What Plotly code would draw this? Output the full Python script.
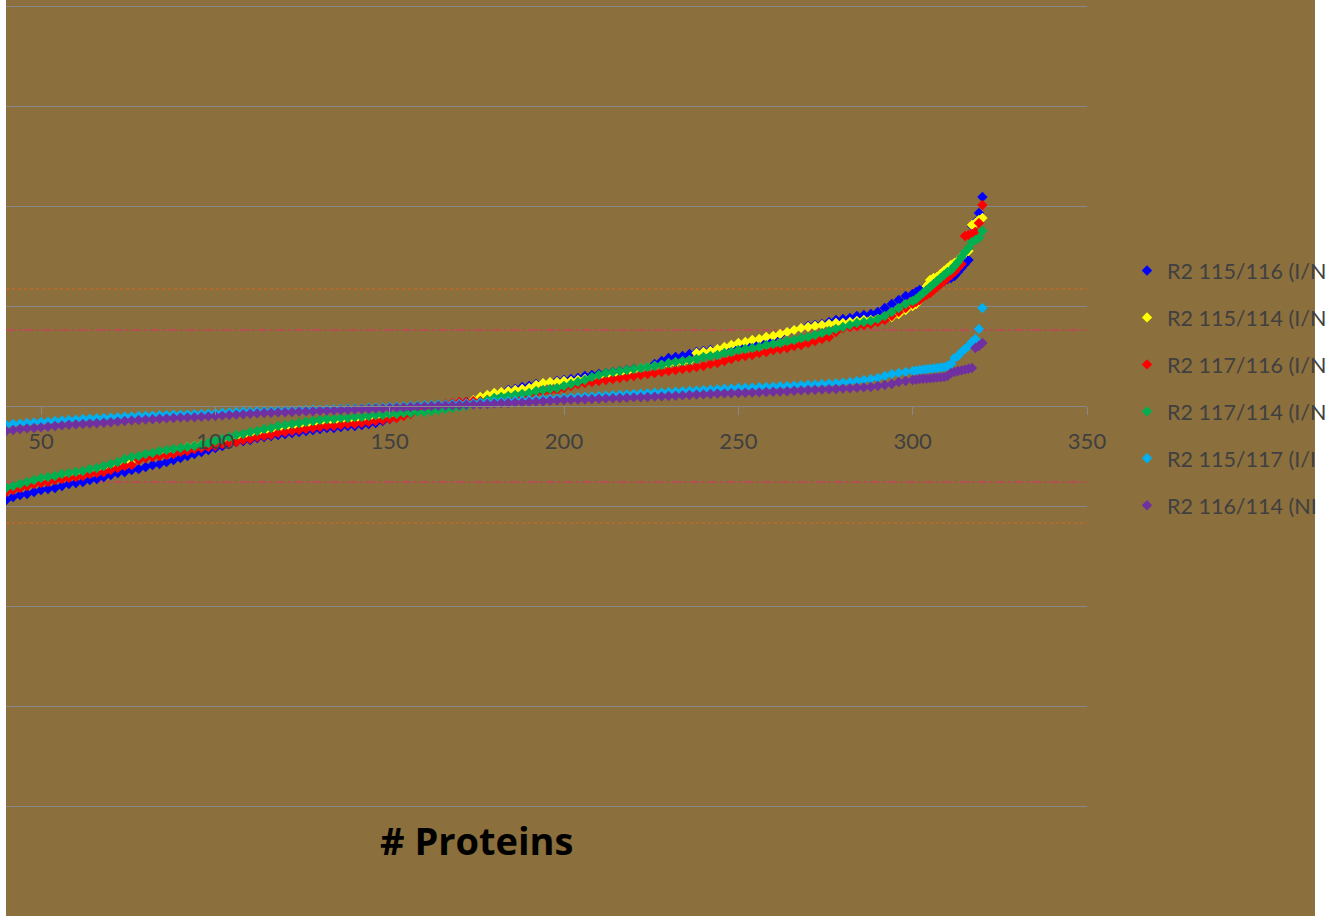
import plotly.graph_objects as go

# Protein rank (x) — every second rank up to 300, then each rank to 320
rank = list(range(36, 301, 2)) + list(range(301, 321))

# legend labels as far as they are visible in the (cropped) reference
series_names = ["R2 115/116 (I/N", "R2 115/114 (I/N", "R2 117/116 (I/N",
                "R2 117/114 (I/N", "R2 115/117 (I/I", "R2 116/114 (NI"]
series_colors = ["#0000FF", "#FFFF00", "#FF0000", "#00B050", "#00B0F0", "#7030A0"]

r115_116 = [
    -0.50, -0.485, -0.47, -0.455, -0.445, -0.44, -0.43, -0.42, -0.415, -0.41,
    -0.40, -0.39, -0.385, -0.38, -0.37, -0.365, -0.355, -0.345, -0.335, -0.33,
    -0.32, -0.315, -0.305, -0.295, -0.29, -0.28, -0.27, -0.26, -0.25, -0.24,
    -0.23, -0.22, -0.21, -0.20, -0.19, -0.18, -0.175, -0.17, -0.16, -0.155,
    -0.15, -0.145, -0.14, -0.135, -0.13, -0.125, -0.12, -0.115, -0.11, -0.11,
    -0.105, -0.10, -0.10, -0.095, -0.09, -0.085, -0.075, -0.065, -0.04, -0.035,
    -0.03, -0.025, -0.02, -0.015, -0.01, -0.005, 0.0, 0.01, 0.02, 0.03,
    0.04, 0.05, 0.06, 0.07, 0.08, 0.085, 0.095, 0.10, 0.11, 0.115,
    0.12, 0.125, 0.13, 0.135, 0.14, 0.15, 0.155, 0.16, 0.165, 0.17,
    0.175, 0.18, 0.185, 0.19, 0.195, 0.21, 0.225, 0.24, 0.245, 0.25,
    0.26, 0.27, 0.275, 0.28, 0.285, 0.29, 0.295, 0.30, 0.305, 0.31,
    0.32, 0.33, 0.34, 0.355, 0.37, 0.38, 0.39, 0.40, 0.405, 0.41,
    0.42, 0.43, 0.435, 0.44, 0.45, 0.455, 0.46, 0.47, 0.49, 0.51,
    0.53, 0.55, 0.56,
    0.57, 0.58, 0.585, 0.59, 0.60, 0.605, 0.61, 0.615, 0.625, 0.635,
    0.64, 0.65, 0.67, 0.69, 0.71, 0.73, 0.90, 0.92, 0.965, 1.045,
]

r115_114 = [
    -0.44, -0.43, -0.42, -0.41, -0.40, -0.39, -0.38, -0.375, -0.37, -0.36,
    -0.355, -0.345, -0.34, -0.335, -0.325, -0.32, -0.315, -0.305, -0.295, -0.285,
    -0.275, -0.265, -0.255, -0.245, -0.24, -0.23, -0.225, -0.215, -0.205, -0.20,
    -0.195, -0.19, -0.185, -0.18, -0.17, -0.16, -0.155, -0.145, -0.14, -0.13,
    -0.125, -0.12, -0.115, -0.11, -0.105, -0.10, -0.095, -0.09, -0.085, -0.08,
    -0.075, -0.075, -0.07, -0.07, -0.065, -0.06, -0.055, -0.05, -0.045, -0.04,
    -0.035, -0.03, -0.025, -0.02, -0.015, -0.01, -0.005, 0.005, 0.015, 0.03,
    0.045, 0.055, 0.065, 0.07, 0.075, 0.08, 0.085, 0.09, 0.105, 0.115,
    0.12, 0.12, 0.125, 0.125, 0.13, 0.135, 0.14, 0.145, 0.15, 0.155,
    0.165, 0.17, 0.18, 0.19, 0.195, 0.20, 0.205, 0.21, 0.215, 0.22,
    0.225, 0.265, 0.27, 0.275, 0.285, 0.295, 0.305, 0.315, 0.32, 0.33,
    0.335, 0.345, 0.35, 0.36, 0.37, 0.38, 0.39, 0.395, 0.40, 0.405,
    0.41, 0.415, 0.415, 0.42, 0.425, 0.43, 0.43, 0.435, 0.44, 0.445,
    0.46, 0.48, 0.50,
    0.51, 0.53, 0.56, 0.60, 0.63, 0.64, 0.645, 0.66, 0.675, 0.69,
    0.705, 0.715, 0.725, 0.745, 0.765, 0.775, 0.905, 0.915, 0.93, 0.94,
]

r117_116 = [
    -0.45, -0.44, -0.43, -0.42, -0.41, -0.40, -0.39, -0.385, -0.38, -0.37,
    -0.365, -0.36, -0.355, -0.35, -0.34, -0.335, -0.33, -0.32, -0.31, -0.30,
    -0.295, -0.27, -0.26, -0.255, -0.25, -0.245, -0.24, -0.23, -0.225, -0.215,
    -0.21, -0.205, -0.20, -0.19, -0.185, -0.18, -0.17, -0.165, -0.155, -0.15,
    -0.145, -0.135, -0.13, -0.125, -0.12, -0.115, -0.11, -0.105, -0.10, -0.10,
    -0.095, -0.09, -0.09, -0.085, -0.08, -0.075, -0.07, -0.065, -0.06, -0.05,
    -0.04, -0.03, -0.02, -0.01, 0.0, 0.01, 0.015, 0.02, 0.02, 0.025,
    0.025, 0.03, 0.03, 0.035, 0.04, 0.045, 0.05, 0.055, 0.065, 0.07,
    0.075, 0.08, 0.09, 0.10, 0.11, 0.115, 0.12, 0.125, 0.13, 0.135,
    0.14, 0.145, 0.15, 0.155, 0.16, 0.165, 0.17, 0.175, 0.18, 0.185,
    0.19, 0.195, 0.20, 0.21, 0.215, 0.225, 0.235, 0.245, 0.25, 0.255,
    0.265, 0.27, 0.28, 0.285, 0.29, 0.30, 0.305, 0.315, 0.325, 0.335,
    0.345, 0.37, 0.39, 0.395, 0.40, 0.405, 0.41, 0.42, 0.43, 0.45,
    0.47, 0.49, 0.51,
    0.52, 0.53, 0.545, 0.555, 0.565, 0.58, 0.595, 0.61, 0.625, 0.64,
    0.655, 0.67, 0.69, 0.71, 0.85, 0.855, 0.86, 0.87, 0.915, 1.005,
]

r117_114 = [
    -0.43, -0.42, -0.41, -0.40, -0.39, -0.38, -0.37, -0.36, -0.355, -0.35,
    -0.34, -0.335, -0.33, -0.325, -0.315, -0.31, -0.30, -0.29, -0.28, -0.265,
    -0.255, -0.25, -0.24, -0.235, -0.225, -0.22, -0.215, -0.21, -0.205, -0.20,
    -0.195, -0.185, -0.175, -0.165, -0.155, -0.145, -0.14, -0.13, -0.125, -0.115,
    -0.11, -0.10, -0.095, -0.09, -0.085, -0.08, -0.075, -0.07, -0.065, -0.065,
    -0.06, -0.06, -0.055, -0.055, -0.05, -0.045, -0.045, -0.04, -0.04, -0.035,
    -0.035, -0.03, -0.03, -0.025, -0.02, -0.015, -0.01, -0.005, 0.0, 0.01,
    0.02, 0.03, 0.04, 0.045, 0.05, 0.055, 0.06, 0.065, 0.075, 0.08,
    0.085, 0.09, 0.10, 0.11, 0.12, 0.13, 0.145, 0.155, 0.165, 0.17,
    0.175, 0.18, 0.185, 0.19, 0.195, 0.20, 0.205, 0.215, 0.22, 0.225,
    0.23, 0.235, 0.245, 0.25, 0.255, 0.265, 0.27, 0.28, 0.285, 0.29,
    0.295, 0.305, 0.31, 0.315, 0.325, 0.33, 0.34, 0.345, 0.355, 0.365,
    0.375, 0.385, 0.395, 0.405, 0.415, 0.42, 0.425, 0.435, 0.45, 0.47,
    0.49, 0.51, 0.525,
    0.535, 0.55, 0.565, 0.58, 0.595, 0.61, 0.625, 0.64, 0.655, 0.67,
    0.68, 0.70, 0.72, 0.745, 0.77, 0.79, 0.82, 0.83, 0.84, 0.875,
]

r115_117 = [
    -0.105, -0.10, -0.095, -0.09, -0.088, -0.085, -0.082, -0.08, -0.078, -0.075,
    -0.072, -0.07, -0.068, -0.065, -0.063, -0.061, -0.06, -0.058, -0.056, -0.054,
    -0.052, -0.05, -0.049, -0.048, -0.046, -0.045, -0.044, -0.043, -0.042, -0.041,
    -0.04, -0.038, -0.036, -0.034, -0.032, -0.03, -0.029, -0.028, -0.027, -0.026,
    -0.025, -0.024, -0.023, -0.022, -0.021, -0.02, -0.019, -0.018, -0.017, -0.016,
    -0.015, -0.014, -0.013, -0.012, -0.01, -0.009, -0.007, -0.005, -0.004, -0.002,
    0.0, 0.002, 0.004, 0.005, 0.007, 0.008, 0.01, 0.011, 0.013, 0.014,
    0.016, 0.018, 0.02, 0.022, 0.024, 0.026, 0.028, 0.03, 0.032, 0.034,
    0.036, 0.038, 0.04, 0.042, 0.044, 0.046, 0.048, 0.05, 0.052, 0.054,
    0.056, 0.058, 0.06, 0.062, 0.064, 0.066, 0.068, 0.07, 0.072, 0.074,
    0.076, 0.078, 0.08, 0.082, 0.084, 0.086, 0.088, 0.09, 0.091, 0.092,
    0.094, 0.095, 0.097, 0.099, 0.10, 0.102, 0.104, 0.106, 0.108, 0.11,
    0.112, 0.114, 0.117, 0.12, 0.125, 0.13, 0.135, 0.14, 0.15, 0.16,
    0.165, 0.17, 0.175,
    0.177, 0.18, 0.182, 0.184, 0.186, 0.188, 0.19, 0.192, 0.195, 0.20,
    0.21, 0.24, 0.25, 0.27, 0.285, 0.30, 0.32, 0.335, 0.385, 0.49,
]

r116_114 = [
    -0.135, -0.13, -0.125, -0.12, -0.115, -0.112, -0.11, -0.107, -0.104, -0.10,
    -0.097, -0.094, -0.092, -0.09, -0.088, -0.086, -0.084, -0.081, -0.078, -0.075,
    -0.072, -0.07, -0.068, -0.066, -0.064, -0.062, -0.06, -0.058, -0.057, -0.056,
    -0.054, -0.052, -0.05, -0.048, -0.045, -0.043, -0.041, -0.039, -0.037, -0.035,
    -0.034, -0.032, -0.031, -0.03, -0.028, -0.027, -0.026, -0.024, -0.023, -0.022,
    -0.02, -0.019, -0.018, -0.016, -0.015, -0.013, -0.012, -0.01, -0.008, -0.007,
    -0.005, -0.003, -0.002, 0.0, 0.001, 0.002, 0.003, 0.004, 0.006, 0.007,
    0.009, 0.01, 0.012, 0.014, 0.015, 0.017, 0.018, 0.02, 0.022, 0.024,
    0.026, 0.028, 0.03, 0.031, 0.032, 0.034, 0.035, 0.036, 0.038, 0.039,
    0.04, 0.041, 0.043, 0.044, 0.045, 0.047, 0.048, 0.05, 0.051, 0.053,
    0.055, 0.057, 0.058, 0.06, 0.062, 0.063, 0.064, 0.065, 0.066, 0.067,
    0.068, 0.07, 0.071, 0.072, 0.074, 0.076, 0.078, 0.08, 0.081, 0.082,
    0.084, 0.085, 0.087, 0.089, 0.091, 0.093, 0.095, 0.10, 0.105, 0.11,
    0.12, 0.125, 0.13,
    0.132, 0.135, 0.136, 0.137, 0.138, 0.14, 0.142, 0.143, 0.145, 0.15,
    0.165, 0.17, 0.175, 0.178, 0.182, 0.186, 0.19, 0.29, 0.30, 0.315,
]

series_values = [r115_116, r115_114, r117_116, r117_114, r115_117, r116_114]

x_ticks = [50, 100, 150, 200, 250, 300, 350]
threshold_orange = [0.585, -0.585]   # log2(1.5)
threshold_red = [0.38, -0.38]        # log2(1.3)

BG = "#8B6F3D"
GRID = "#878787"

# plot area: pixel rows 4..808, columns 6..1087
PT, PB, PL, PR = 4, 808, 6, 1087
PW, PH = PR - PL, PB - PT

fig = go.Figure()
for i, (name, color, vals) in enumerate(zip(series_names, series_colors, series_values)):
    fig.add_trace(go.Scatter(
        x=rank[:len(vals)], y=vals, mode="markers", name=name,
        legendgroup=f"g{i}",
        marker=dict(symbol="diamond", size=8, color=color, line=dict(width=0)),
        hoverinfo="skip",
    ))

shapes = []
for v in threshold_orange:
    shapes.append(dict(type="line", xref="paper", yref="y", x0=0, x1=1, y0=v, y1=v,
                       line=dict(color="#C26A2A", width=1.3, dash="dot"), layer="below"))
for v in threshold_red:
    shapes.append(dict(type="line", xref="paper", yref="y", x0=0, x1=1, y0=v, y1=v,
                       line=dict(color="#E0306A", width=1, dash="dashdot"), layer="below"))
# white crop borders
shapes.append(dict(type="rect", xref="paper", yref="paper", x0=-PL/PW, x1=0, y0=-0.2, y1=1.1,
                   fillcolor="white", line=dict(width=0), layer="above"))
shapes.append(dict(type="rect", xref="paper", yref="paper", x0=(1315-PL)/PW, x1=1.3, y0=-0.2, y1=1.1,
                   fillcolor="white", line=dict(width=0), layer="above"))

fig.update_layout(
    width=1326, height=916,
    margin=dict(l=PL, r=1326-PR, t=PT, b=916-PB, autoexpand=False),
    paper_bgcolor=BG, plot_bgcolor=BG,
    font=dict(family="Lato, Open Sans, sans-serif", color="#404040"),
    showlegend=True,
    legend=dict(x=(1127-PL)/PW, xanchor="left", y=(PB-250)/PH, yanchor="top",
                font=dict(size=21.5, color="#404040"), tracegroupgap=16,
                bgcolor="rgba(0,0,0,0)", borderwidth=0),
    shapes=shapes,
    annotations=[dict(text="<b># Proteins</b>", xref="paper", yref="paper",
                      x=(476-PL)/PW, y=(PB-840)/PH, xanchor="center", yanchor="middle",
                      showarrow=False, font=dict(size=38, color="#000000",
                                                  family="Open Sans, Lato, sans-serif"))],
)

fig.update_xaxes(
    range=[39.96, 350], tickvals=x_ticks, ticktext=[str(t) for t in x_ticks],
    showgrid=False, zeroline=False, showline=True, linecolor=GRID, linewidth=1,
    anchor="free", position=0.5, ticks="outside", ticklen=8, tickcolor=GRID,
    tickfont=dict(size=22, color="#404040"), ticklabelstandoff=8,
)
fig.update_yaxes(
    range=[-2.01, 2.01], tickvals=[-2, -1.5, -1, -0.5, 0, 0.5, 1, 1.5, 2],
    showticklabels=False, showgrid=True, gridcolor=GRID,
    gridwidth=1, zeroline=False, showline=False,
)

fig.write_html("out.html", config={"displayModeBar": False, "staticPlot": True},
               post_script="document.body.style.margin='0';")
